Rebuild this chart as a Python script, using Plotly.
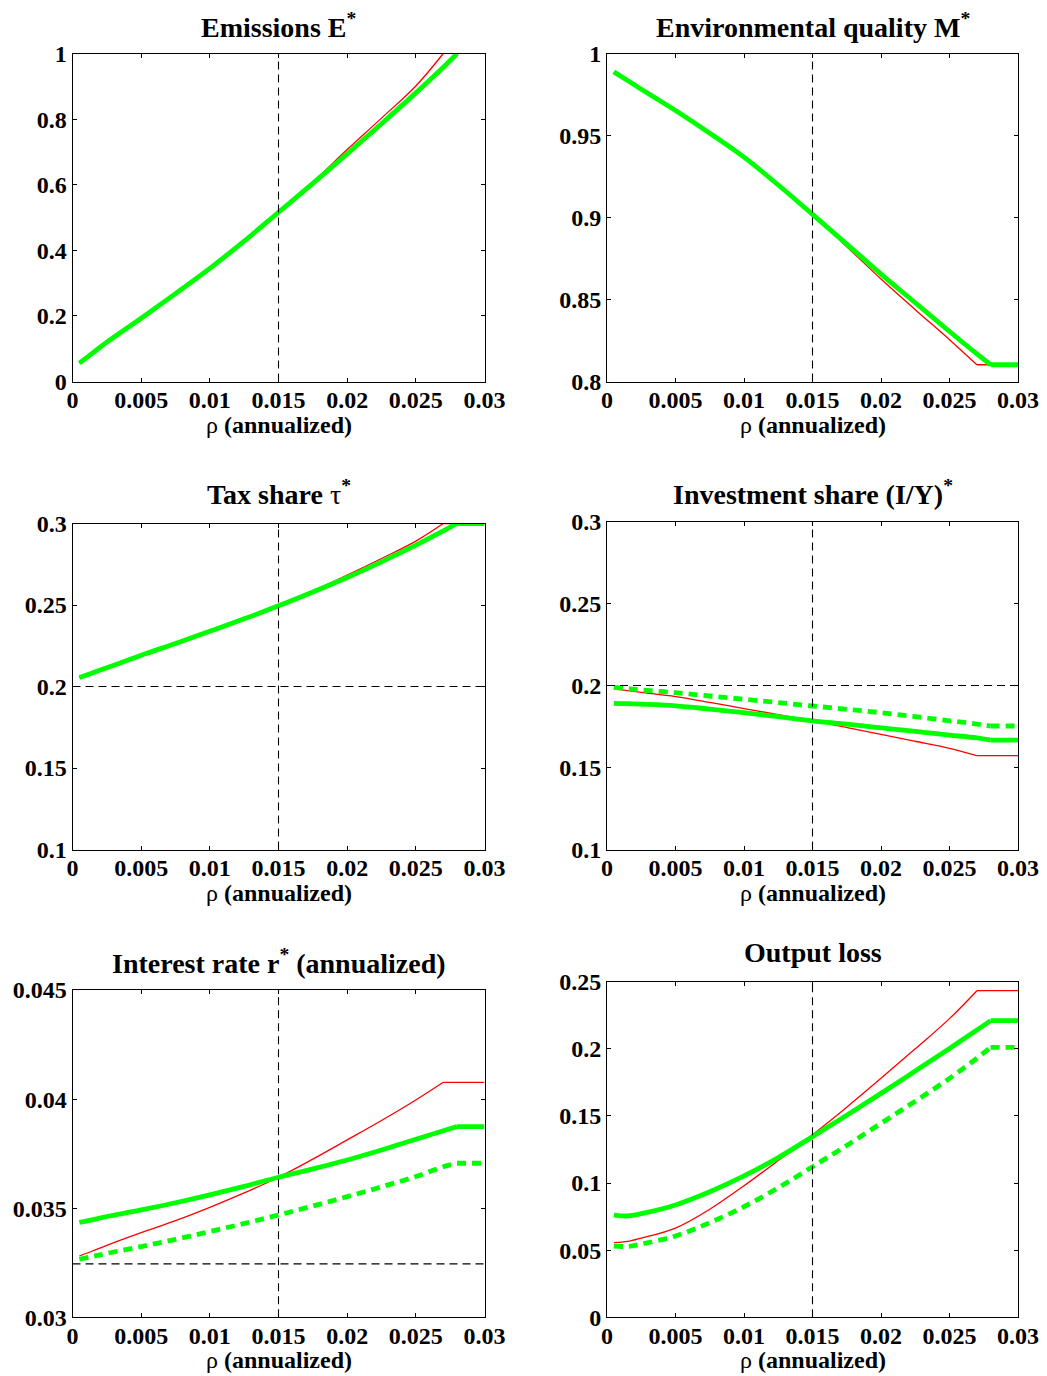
import plotly.graph_objects as go

# ---------------- data ----------------
rho = [0.0005, 0.0015, 0.0025, 0.005, 0.0075, 0.01, 0.0125, 0.015,
       0.0175, 0.02, 0.0225, 0.025, 0.027, 0.028, 0.03]

E_red = [0.056, 0.088, 0.120, 0.193, 0.268, 0.345, 0.428, 0.516,
         0.608, 0.707, 0.803, 0.901, 1.0, None, None]
E_green = [0.056, 0.088, 0.120, 0.193, 0.268, 0.345, 0.428, 0.516,
           0.604, 0.694, 0.786, 0.880, 0.958, 1.0, None]

M_red = [0.9888, 0.9835, 0.9782, 0.9652, 0.9514, 0.9368, 0.9198, 0.9019,
         0.8822, 0.8625, 0.8438, 0.8255, 0.8102, 0.8102, 0.8102]
M_green = [0.9888, 0.9835, 0.9782, 0.9652, 0.9514, 0.9368, 0.9198, 0.9019,
           0.8838, 0.8655, 0.8480, 0.8305, 0.8168, 0.8102, 0.8102]

tau_red = [0.2055, 0.2085, 0.2115, 0.2192, 0.2264, 0.2339, 0.2415, 0.2495,
           0.2585, 0.2683, 0.2785, 0.2892, 0.3, 0.3, 0.3]
tau_green = [0.2055, 0.2085, 0.2115, 0.2192, 0.2264, 0.2339, 0.2415, 0.2495,
             0.258, 0.2669, 0.2765, 0.2867, 0.2955, 0.3, 0.3]

IY_red = [0.1979, 0.1969, 0.1958, 0.1932, 0.1897, 0.1859, 0.1823, 0.1785,
          0.1744, 0.1702, 0.1660, 0.1617, 0.1572, 0.1572, 0.1572]
IY_green = [0.1891, 0.1889, 0.1886, 0.1876, 0.1856, 0.1834, 0.1810, 0.1785,
            0.1764, 0.1742, 0.1720, 0.1698, 0.1680, 0.1667, 0.1667]
IY_green_dash = [0.1989, 0.1981, 0.1973, 0.1956, 0.1936, 0.1916, 0.1896, 0.1875,
                 0.1855, 0.1834, 0.1810, 0.1785, 0.1765, 0.1753, 0.1753]

r_red = [0.03281, 0.03305, 0.03330, 0.03388, 0.03443, 0.03504, 0.03570, 0.03642,
         0.03725, 0.03813, 0.03902, 0.03996, 0.04077, 0.04077, 0.04077]
r_green = [0.03435, 0.03448, 0.03462, 0.03492, 0.03525, 0.03561, 0.03600, 0.03642,
           0.03680, 0.03721, 0.03767, 0.03816, 0.03855, 0.03874, 0.03874]
r_green_dash = [0.03266, 0.03279, 0.03293, 0.03324, 0.03357, 0.03393, 0.0343, 0.03469,
                0.0351, 0.03553, 0.03598, 0.03645, 0.0369, 0.03706, 0.03706]

loss_red = [0.0556, 0.0565, 0.0590, 0.0665, 0.0805, 0.0980, 0.1168, 0.1360,
            0.1565, 0.1780, 0.2000, 0.2225, 0.2433, 0.2433, 0.2433]
loss_green = [0.0762, 0.0755, 0.0772, 0.0837, 0.0935, 0.1053, 0.1190, 0.1346,
              0.1505, 0.1668, 0.1835, 0.2003, 0.2140, 0.221, 0.221]
loss_green_dash = [0.0531, 0.0528, 0.0546, 0.0606, 0.0705, 0.0824, 0.0965, 0.1122,
                   0.128, 0.1445, 0.161, 0.178, 0.193, 0.2011, 0.2011]

x_tickvals = [0, 0.005, 0.01, 0.015, 0.02, 0.025, 0.03]
x_ticktext = ["0", "0.005", "0.01", "0.015", "0.02", "0.025", "0.03"]

rho_ref = 0.015
tau_ref = 0.2
IY_ref = 0.2
r_ref = 0.03245

titles = ["Emissions E<sup>*</sup>", "Environmental quality M<sup>*</sup>",
          "Tax share <span style='font-weight:normal'>τ</span><sup>*</sup>",
          "Investment share (I/Y)<sup>*</sup>",
          "Interest rate r<sup>*</sup> (annualized)", "Output loss"]
xlabel = "<span style='font-weight:normal'>ρ</span> (annualized)"

# ---------------- layout geometry ----------------
# the page body has an 8px margin, so the figure is offset by OFF pixels
OFF = 8
W, H = 1047 - OFF, 1376 - OFF
FONT = "Liberation Serif"
DASH = "9px,6px"
GW = 4.8   # green line width
RW = 1.3   # red line width

panels = [
    dict(series=[(E_red, "red", RW, "solid"), (E_green, "lime", GW, "solid")],
         yrange=[0, 1], yticks=[0, 0.2, 0.4, 0.6, 0.8, 1],
         ytext=["0", "0.2", "0.4", "0.6", "0.8", "1"], href=None,
         box=(72.5, 484.5, 53.5, 381.5), title_y=25, xlab_y=425),
    dict(series=[(M_red, "red", RW, "solid"), (M_green, "lime", GW, "solid")],
         yrange=[0.8, 1], yticks=[0.8, 0.85, 0.9, 0.95, 1],
         ytext=["0.8", "0.85", "0.9", "0.95", "1"], href=None,
         box=(607, 1018, 53.5, 381.5), title_y=25, xlab_y=425),
    dict(series=[(tau_red, "red", RW, "solid"), (tau_green, "lime", GW, "solid")],
         yrange=[0.1, 0.3], yticks=[0.1, 0.15, 0.2, 0.25, 0.3],
         ytext=["0.1", "0.15", "0.2", "0.25", "0.3"], href=tau_ref,
         box=(72.5, 484.5, 523.5, 849.5), title_y=493, xlab_y=893),
    dict(series=[(IY_red, "red", RW, "solid"), (IY_green, "lime", GW, "solid"),
                 (IY_green_dash, "lime", GW, DASH)],
         yrange=[0.1, 0.3], yticks=[0.1, 0.15, 0.2, 0.25, 0.3],
         ytext=["0.1", "0.15", "0.2", "0.25", "0.3"], href=IY_ref,
         box=(607, 1018, 521.5, 849.5), title_y=493, xlab_y=893),
    dict(series=[(r_red, "red", RW, "solid"), (r_green, "lime", GW, "solid"),
                 (r_green_dash, "lime", GW, DASH)],
         yrange=[0.03, 0.045], yticks=[0.03, 0.035, 0.04, 0.045],
         ytext=["0.03", "0.035", "0.04", "0.045"], href=r_ref,
         box=(72.5, 484.5, 990, 1317.3), title_y=961, xlab_y=1360),
    dict(series=[(loss_red, "red", RW, "solid"), (loss_green, "lime", GW, "solid"),
                 (loss_green_dash, "lime", GW, DASH)],
         yrange=[0, 0.25], yticks=[0, 0.05, 0.1, 0.15, 0.2, 0.25],
         ytext=["0", "0.05", "0.1", "0.15", "0.2", "0.25"], href=None,
         box=(607, 1018, 981.7, 1317.3), title_y=952, xlab_y=1360),
]

fig = go.Figure()
layout = dict(width=W, height=H,
              margin=dict(l=0, r=0, t=0, b=0, pad=0, autoexpand=False),
              paper_bgcolor="white", plot_bgcolor="white", showlegend=False)
shapes = []
annotations = []

tickfont = dict(family=FONT, size=24, color="black", weight="bold")


def px_x(v):
    return (v - OFF) / W


def px_y(v):
    return 1 - (v - OFF) / H


def split_series(vals):
    """Split a series into its curved part and its flat tail (if any)."""
    pts = [(x, v) for x, v in zip(rho, vals) if v is not None]
    last = pts[-1][1]
    k = len(pts) - 1
    while k > 0 and pts[k - 1][1] == last:
        k -= 1
    curve = pts[:k + 1]
    flat = pts[k:] if k < len(pts) - 1 else []
    return curve, flat


for i, p in enumerate(panels):
    n = i + 1
    xa = "x" if n == 1 else f"x{n}"
    ya = "y" if n == 1 else f"y{n}"
    xl, xr, yt, yb = p["box"]
    for vals, col, w, dash in p["series"]:
        curve, flat = split_series(vals)
        fig.add_trace(go.Scatter(x=[c[0] for c in curve], y=[c[1] for c in curve],
                                 mode="lines", xaxis=xa, yaxis=ya,
                                 line=dict(color=col, width=w, dash=dash,
                                           shape="spline", smoothing=1.0),
                                 hoverinfo="skip"))
        if flat:
            fig.add_trace(go.Scatter(x=[c[0] for c in flat], y=[c[1] for c in flat],
                                     mode="lines", xaxis=xa, yaxis=ya,
                                     line=dict(color=col, width=w, dash=dash),
                                     hoverinfo="skip"))
    axis_common = dict(showgrid=False, zeroline=False, showline=True, linecolor="black",
                       linewidth=1, mirror="ticks", ticks="inside", ticklen=4,
                       tickwidth=1, tickcolor="black", tickfont=tickfont,
                       automargin=False)
    layout["xaxis" if n == 1 else f"xaxis{n}"] = dict(
        domain=[px_x(xl), px_x(xr)], anchor=ya, range=[0, 0.03],
        tickvals=x_tickvals, ticktext=x_ticktext, ticklabelstandoff=-3, **axis_common)
    layout["yaxis" if n == 1 else f"yaxis{n}"] = dict(
        domain=[px_y(yb), px_y(yt)], anchor=xa, range=p["yrange"],
        tickvals=p["yticks"], ticktext=p["ytext"], **axis_common)
    # reference lines
    shapes.append(dict(type="line", xref=xa, yref=f"{ya} domain", x0=rho_ref, x1=rho_ref,
                       y0=0, y1=1, line=dict(color="black", width=1.1, dash="8px,5px"),
                       layer="above"))
    if p["href"] is not None:
        shapes.append(dict(type="line", xref=f"{xa} domain", yref=ya, x0=0, x1=1,
                           y0=p["href"], y1=p["href"],
                           line=dict(color="black", width=1.1, dash="8px,5px"),
                           layer="above"))
    cx = px_x((xl + xr) / 2)
    annotations.append(dict(text=f"<b>{titles[i]}</b>", x=cx, y=px_y(p["title_y"]),
                            xref="paper", yref="paper", xanchor="center", yanchor="middle",
                            showarrow=False, font=dict(family=FONT, size=28, color="black")))
    annotations.append(dict(text=f"<b>{xlabel}</b>", x=cx, y=px_y(p["xlab_y"]),
                            xref="paper", yref="paper", xanchor="center", yanchor="middle",
                            showarrow=False, font=dict(family=FONT, size=24, color="black")))

layout["shapes"] = shapes
layout["annotations"] = annotations
fig.update_layout(**layout)
fig.write_html("out.html")
